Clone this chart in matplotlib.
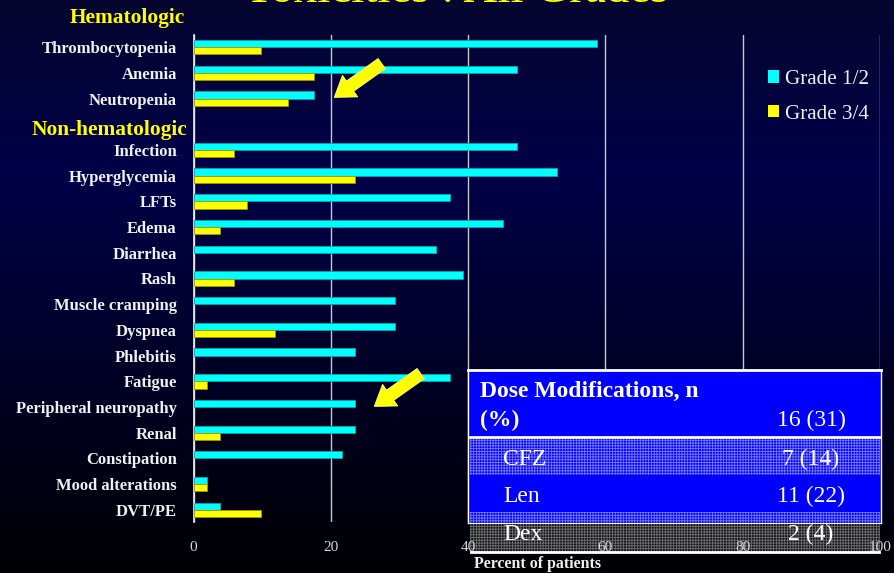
import numpy as np
import matplotlib
matplotlib.use("Agg")
import matplotlib.pyplot as plt
from matplotlib.patches import Rectangle, FancyArrowPatch, Patch

plt.rcParams['font.family'] = ['Liberation Serif', 'DejaVu Serif']
plt.rcParams['hatch.linewidth'] = 0.6

W, H = 894, 573

# toxicity categories, top to bottom (n = 51 patients, % of patients)
hema_cats = ["Thrombocytopenia", "Anemia", "Neutropenia"]
hema_g12 = [58.8, 47.1, 17.6]
hema_g34 = [9.8, 17.6, 13.7]

nonhema_cats = ["Infection", "Hyperglycemia", "LFTs", "Edema", "Diarrhea", "Rash",
                "Muscle cramping", "Dyspnea", "Phlebitis", "Fatigue",
                "Peripheral neuropathy", "Renal", "Constipation",
                "Mood alterations", "DVT/PE"]
nonhema_g12 = [47.1, 52.9, 37.3, 45.1, 35.3, 39.2, 29.4, 29.4, 23.5, 37.3,
               23.5, 23.5, 21.6, 2.0, 3.9]
nonhema_g34 = [5.9, 23.5, 7.8, 3.9, 0, 5.9, 0, 11.8, 0, 2.0, 0, 3.9, 0, 2.0, 9.8]

xticks = [0, 20, 40, 60, 80, 100]

# dose modification table
dose_header = "Dose Modifications, n"
dose_total = "16 (31)"
dose_drugs = ["CFZ", "Len", "Dex"]
dose_vals = ["7 (14)", "11 (22)", "2 (4)"]

CYAN = "#00ffff"
YELLOW = "#ffff00"
BLUE = "#0000ff"


def fx(px):
    return px / W


def fy(py):
    return 1 - py / H


fig = plt.figure(figsize=(W / 100, H / 100), dpi=100)

# background: dark navy fading to black
bg = fig.add_axes([0, 0, 1, 1], zorder=-10)
t = np.linspace(0, 1, 300)
top = np.array([6, 6, 48]) / 255
mid = np.array([0, 0, 72]) / 255
bot = np.array([0, 0, 4]) / 255
cols = np.where(t[:, None] < 0.3,
                top + (mid - top) * (t[:, None] / 0.3),
                mid + (bot - mid) * ((t[:, None] - 0.3) / 0.7))
bg.imshow(cols[:, None, :], aspect='auto', extent=[0, 1, 0, 1])
bg.axis('off')

# positions: hematologic rows, one empty slot, then non-hematologic rows
y_hema = np.arange(len(hema_cats))
y_non = np.arange(len(nonhema_cats)) + len(hema_cats) + 1
ypos = np.concatenate([y_hema, y_non])
labels = hema_cats + nonhema_cats
g12 = np.array(hema_g12 + nonhema_g12)
g34 = np.array(hema_g34 + nonhema_g34)

ax = fig.add_axes([fx(193.5), fy(522), fx(880) - fx(193.5), fy(35) - fy(522)])
ax.set_facecolor('none')

bh = 0.28
ax.barh(ypos - bh / 2, g12, height=bh, color=CYAN, edgecolor="#00a8a8",
        linewidth=0.6, label="Grade 1/2", zorder=3)
has34 = g34 > 0
ax.barh(ypos[has34] + bh / 2, g34[has34], height=bh, color=YELLOW,
        edgecolor="#9a9a00", linewidth=0.6, label="Grade 3/4", zorder=3)

ax.set_xlim(0, 100)
ax.set_ylim(18.47, -0.47)
ax.set_xticks(xticks)
ax.set_xticklabels([str(v) for v in xticks], color="#d8d8d8", fontsize=11)
ax.tick_params(axis='x', length=0, pad=14)
ax.set_yticks(ypos)
ax.set_yticklabels(labels, color="#f0f0f0", fontsize=12, fontweight='bold')
ax.tick_params(axis='y', length=0, pad=12)
ax.xaxis.grid(True, color="#c8c8c8", linewidth=1.0)
ax.set_axisbelow(True)
for s in ['top', 'right', 'bottom']:
    ax.spines[s].set_visible(False)
ax.spines['left'].set_color("#f0f0f0")
ax.spines['left'].set_linewidth(1.2)

fig.text(fx(537), fy(564), "Percent of patients", color="#f0f0f0",
         fontsize=11.4, fontweight='bold', ha='center', va='center')

# group headers
fig.text(fx(185), fy(18), "Hematologic", color=YELLOW, fontsize=15.4,
         fontweight='bold', ha='right', va='center')
fig.text(fx(187), fy(130), "Non-hematologic", color=YELLOW, fontsize=15.4,
         fontweight='bold', ha='right', va='center')

# title, mostly above the top edge
fig.text(fx(457), fy(1.5), "Toxicities : All Grades", color=YELLOW,
         fontsize=33.8, ha='center', va='baseline')

# legend
handles = [Patch(facecolor=CYAN, edgecolor='none'), Patch(facecolor=YELLOW, edgecolor='none')]
fig.legend(handles, ["Grade 1/2", "Grade 3/4"], loc='upper left',
           bbox_to_anchor=(fx(768), fy(70)), frameon=False, fontsize=15.2,
           labelcolor="#f0f0f0", handlelength=0.5, handleheight=0.5,
           handletextpad=0.3, labelspacing=0.75, borderaxespad=0, borderpad=0)

# pointer arrows
for (x0, y0), (x1, y1) in [((384, 62), (332, 99)), ((423, 372), (372, 408))]:
    arr = FancyArrowPatch((fx(x0), fy(y0)), (fx(x1), fy(y1)),
                          transform=fig.transFigure,
                          arrowstyle="simple,head_width=19,head_length=14,tail_width=9",
                          facecolor=YELLOW, edgecolor="#ffff90", linewidth=0.6,
                          zorder=4)
    fig.add_artist(arr)


# dose modification table drawn over the plot
def box(x0, y0, x1, y1, face, hatch=None, hatch_col=None, z=5, alpha=1.0):
    fig.add_artist(Rectangle((fx(x0), fy(y1)), fx(x1) - fx(x0), fy(y0) - fy(y1),
                             transform=fig.transFigure, facecolor=face,
                             edgecolor='none', zorder=z, alpha=alpha))
    if hatch:
        fig.add_artist(Rectangle((fx(x0), fy(y1)), fx(x1) - fx(x0), fy(y0) - fy(y1),
                                 transform=fig.transFigure, facecolor='none',
                                 edgecolor=hatch_col, linewidth=0, hatch=hatch,
                                 zorder=z + 0.1))


def hline(x0, x1, y, lw=2):
    fig.add_artist(plt.Line2D([fx(x0), fx(x1)], [fy(y), fy(y)],
                              transform=fig.transFigure, color='white',
                              linewidth=lw, zorder=7))


def vline(x, y0, y1, lw=1):
    fig.add_artist(plt.Line2D([fx(x), fx(x)], [fy(y0), fy(y1)],
                              transform=fig.transFigure, color='white',
                              linewidth=lw, zorder=7))


box(468, 370, 881, 523, BLUE)
box(470, 438, 880, 475, BLUE, hatch='++++++', hatch_col="#7878ff")
box(470, 512, 880, 523, BLUE, hatch='++++++', hatch_col="#7878ff")
# last row spills below the box; tick labels show through it
box(470, 523, 880, 552, "#141418", hatch='++++++', hatch_col="#707070", z=-1)
hline(468, 881, 370)
hline(470, 880, 437)
hline(471, 879, 552)
vline(468, 370, 523)
vline(881, 370, 523)
hline(468, 881, 523, lw=0.8)

tkw = dict(color='white', zorder=8, va='baseline')
fig.text(fx(480), fy(397), dose_header, fontsize=17, fontweight='bold', ha='left', **tkw)
fig.text(fx(480), fy(426), "(%)", fontsize=17, fontweight='bold', ha='left', **tkw)
fig.text(fx(811), fy(426), dose_total, fontsize=17, ha='center', **tkw)
row_base = [465, 502, 540]
for drug, val, yb in zip(dose_drugs, dose_vals, row_base):
    fig.text(fx(503), fy(yb), drug, fontsize=17, ha='left', **tkw)
    fig.text(fx(811), fy(yb), val, fontsize=17, ha='center', **tkw)

fig.savefig("out.png", dpi=100)
